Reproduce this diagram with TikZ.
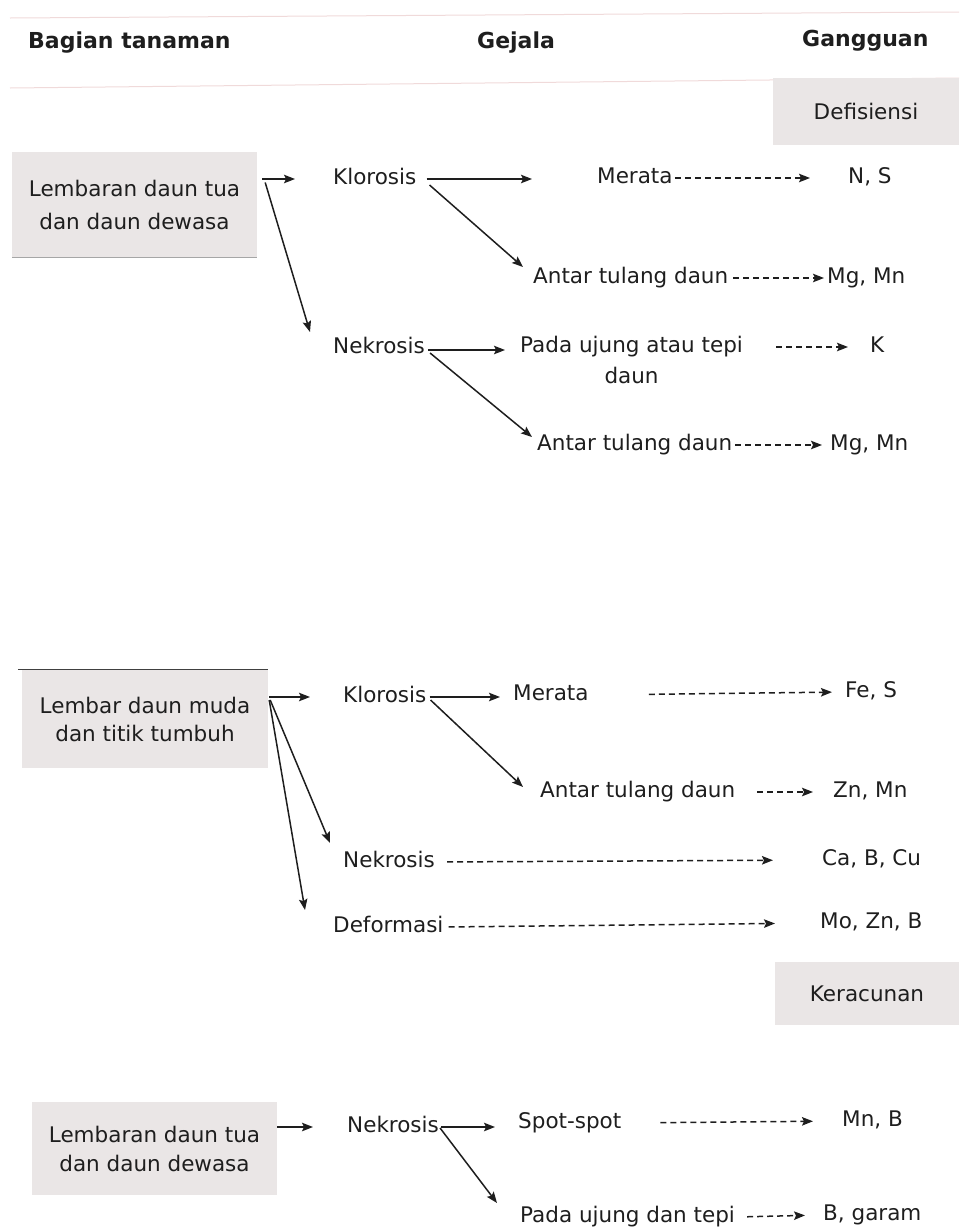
\documentclass[tikz,border=0pt]{standalone}
\usepackage{fontspec}
\setmainfont{DejaVu Sans}
\usetikzlibrary{arrows.meta,positioning,calc}
\definecolor{boxgray}{RGB}{234,230,230}
\definecolor{rulepink}{RGB}{240,218,218}
\definecolor{inkgray}{RGB}{30,30,30}

\begin{document}
\begin{tikzpicture}[x=1pt,y=1pt,yscale=-1,
        txt/.style={anchor=west,inner sep=2pt,text height=15.5pt,text depth=4.7pt,
            font=\fontsize{21.5}{26}\selectfont,text=inkgray},
        head/.style={txt,font=\bfseries\fontsize{22}{26}\selectfont},
        bagian/.style={fill=boxgray,align=center,inner sep=0pt,text=inkgray},
        arr/.style={-{Stealth[length=11pt,width=8.5pt,inset=2pt]},line width=1.5pt,inkgray},
        darr/.style={arr,dash pattern=on 6pt off 4pt}]
        \useasboundingbox (0,0) rectangle (959,1232);
        
        % Header
        \draw[rulepink,line width=1pt] (10,18) -- (959,12);
        \draw[rulepink,line width=1pt] (10,88) -- (959,78);
        \node[head] (bagian) at (26,43) {Bagian tanaman};
        \node[head] (gejala) at (475,43) {Gejala};
        \node[head] (gangguan) at (800,41) {Gangguan};
        \node[bagian,minimum width=186pt,minimum height=67pt,font=\fontsize{21.5}{26}\selectfont] (defisiensi) at (866,111.5) {Defisiensi};
        
        % Text Node -- daun tua (defisiensi)
        \node[bagian,minimum width=245pt,minimum height=105pt,font=\fontsize{21.5}{33}\selectfont] (tua) at (134.5,204.5) {Lembaran daun tua\\dan daun dewasa};
        \draw[gray!70,line width=1pt] (tua.south west) -- (tua.south east);
        \node[txt] (klo1) at (331,179) {Klorosis};
        \node[txt] (nek1) at (331,348) {Nekrosis};
        \node[txt] (mer1) at (595,178) {Merata};
        \node[txt] (ns) at (846,178) {N, S};
        \node[txt] (ant1) at (531,278) {Antar tulang daun};
        \node[txt] (mgmn1) at (825,278) {Mg, Mn};
        \node[txt] (pada1) at (518,347) {Pada ujung atau tepi};
        \node[txt,below=6.8pt of pada1] (pada1b) {daun};
        \node[txt] (k) at (868,347) {K};
        \node[txt] (ant2) at (535,445) {Antar tulang daun};
        \node[txt] (mgmn2) at (828,445) {Mg, Mn};
        
        %Straight Lines
        \draw[arr,shorten <=5pt,shorten >=36pt] (tua.east |- klo1.west) -- (klo1.west);
        \draw[arr] ($(tua.east)+(8,-22)$) -- ($(nek1.west)+(-21,-16)$);
        \draw[arr,shorten <=8pt,shorten >=63pt] (klo1.east) -- (mer1.west |- klo1.east);
        \draw[arr] ($(klo1.east)+(11,6)$) -- ($(ant1.west)+(-8,-11)$);
        \draw[arr,shorten <=1pt,shorten >=13pt] ($(nek1.east)+(0,2)$) -- ($(pada1.west)+(0,3)$);
        \draw[arr] ($(nek1.east)+(3,5)$) -- ($(ant2.west)+(-3,-8)$);
        \draw[darr,shorten >=36pt] (mer1.east) -- (ns.west);
        \draw[darr,shorten <=3pt,shorten >=1pt] (ant1.east) -- (mgmn1.west);
        \draw[darr,shorten <=31pt,shorten >=20pt] (pada1.east) -- (k.west);
        \draw[darr,shorten <=1pt,shorten >=6pt] (ant2.east) -- (mgmn2.west);
        
        % Text Node -- daun muda
        \node[bagian,minimum width=246pt,minimum height=98pt,font=\fontsize{21.5}{28}\selectfont] (muda) at (145,719) {Lembar daun muda\\dan titik tumbuh};
        \draw[inkgray!85,line width=1.3pt] ($(muda.north west)+(-4,0)$) -- (muda.north east);
        \node[txt] (klo2) at (341,697) {Klorosis};
        \node[txt] (mer2) at (511,695) {Merata};
        \node[txt] (fes) at (843,692) {Fe, S};
        \node[txt] (ant3) at (538,792) {Antar tulang daun};
        \node[txt] (znmn) at (831,792) {Zn, Mn};
        \node[txt] (nek2) at (341,862) {Nekrosis};
        \node[txt] (cabcu) at (820,860) {Ca, B, Cu};
        \node[txt] (def) at (331,927) {Deformasi};
        \node[txt] (mozn) at (818,923) {Mo, Zn, B};
        
        %Straight Lines
        \draw[arr,shorten <=1pt,shorten >=31pt] (muda.east |- klo2.west) -- (klo2.west);
        \draw[arr] ($(muda.east)+(2,-19)$) -- ($(nek2.west)+(-11,-19)$);
        \draw[arr] ($(muda.east)+(1,-19)$) -- ($(def.west)+(-26,-17)$);
        \draw[arr,shorten <=1pt,shorten >=11pt] (klo2.east) -- (mer2.west |- klo2.east);
        \draw[arr] ($(klo2.east)+(2,3)$) -- ($(ant3.west)+(-15,-5)$);
        \draw[darr,shorten <=58pt,shorten >=11pt] (mer2.east) -- (fes.west);
        \draw[darr,shorten <=20pt,shorten >=18pt] (ant3.east) -- (znmn.west);
        \draw[darr,shorten <=10pt,shorten >=47pt] (nek2.east) -- (cabcu.west);
        \draw[darr,shorten <=3pt,shorten >=43pt] (def.east) -- (mozn.west);
        
        % Text Node -- keracunan
        \node[bagian,minimum width=184pt,minimum height=63pt,font=\fontsize{21.5}{26}\selectfont] (keracunan) at (867,993.5) {Keracunan};
        \node[bagian,minimum width=245pt,minimum height=93pt,font=\fontsize{21.5}{29}\selectfont] (tua2) at (154.5,1148.5) {Lembaran daun tua\\dan daun dewasa};
        \node[txt] (nek3) at (345,1127) {Nekrosis};
        \node[txt] (spot) at (516,1123) {Spot-spot};
        \node[txt] (mnb) at (840,1121) {Mn, B};
        \node[txt] (pada2) at (518,1217) {Pada ujung dan tepi};
        \node[txt] (bgar) at (821,1215) {B, garam};
        
        %Straight Lines
        \draw[arr,shorten >=32pt] (tua2.east |- nek3.west) -- (nek3.west);
        \draw[arr,shorten >=21pt] (nek3.east) -- (spot.west |- nek3.east);
        \draw[arr] ($(nek3.east)+(-1,1)$) -- ($(pada2.west)+(-21,-14)$);
        \draw[darr,shorten <=37pt,shorten >=27pt] (spot.east) -- (mnb.west);
        \draw[darr,shorten <=10pt,shorten >=16pt] (pada2.east) -- (bgar.west);
        
\end{tikzpicture}
\end{document}
